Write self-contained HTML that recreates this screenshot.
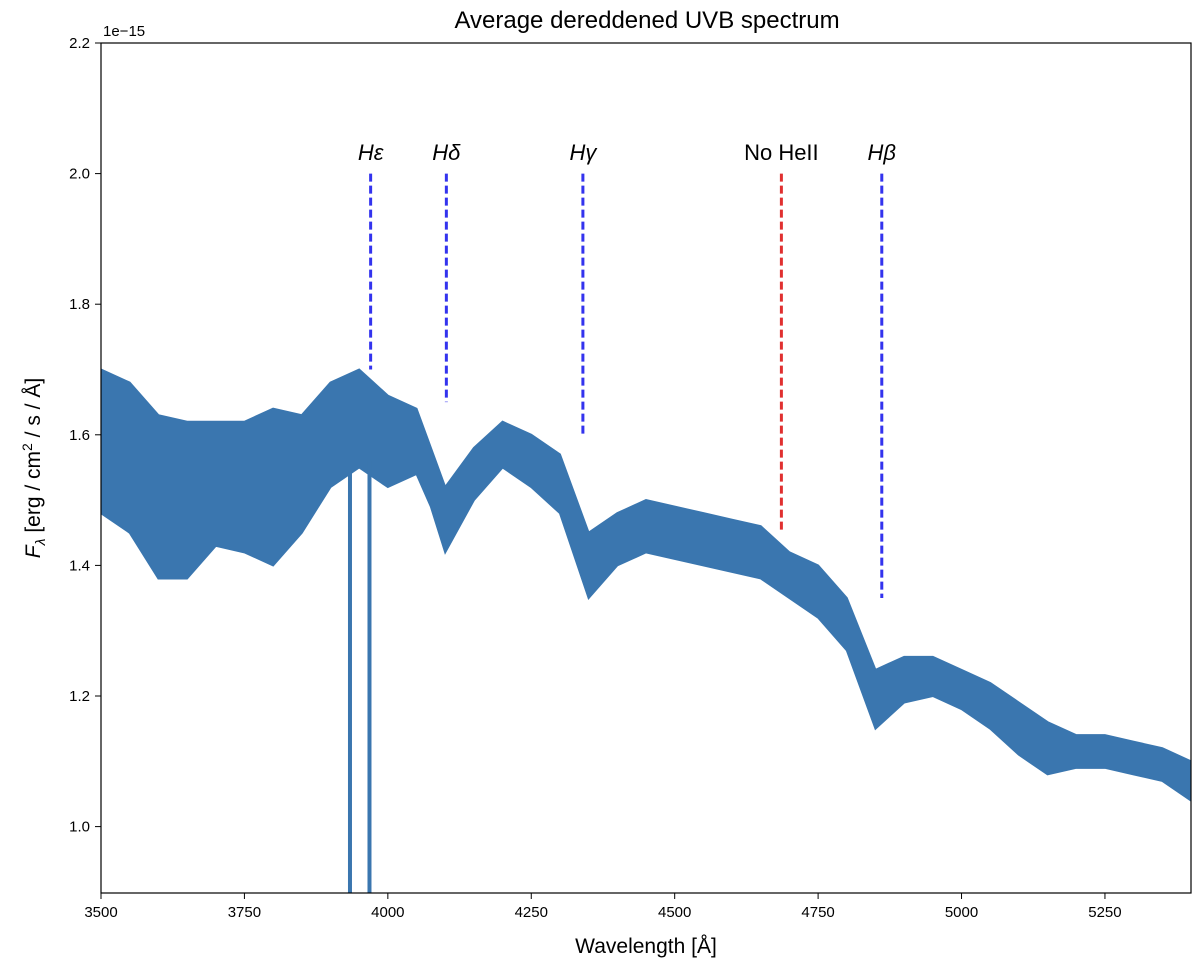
<!DOCTYPE html>
<html><head><meta charset="utf-8"><style>
body{margin:0;background:#fff;font-family:"Liberation Sans","DejaVu Sans",sans-serif}
text{font-family:"Liberation Sans","DejaVu Sans",sans-serif}
</style></head><body>
<svg id="chart" width="1200" height="973" viewBox="0 0 1200 973" xmlns="http://www.w3.org/2000/svg">
<defs><clipPath id="clip"><rect x="101" y="43" width="1090" height="850"/></clipPath></defs>
<text x="647" y="28" font-size="24" text-anchor="middle">Average dereddened UVB spectrum</text>
<text x="103" y="36" font-size="15">1e−15</text>
<g id="plot" clip-path="url(#clip)"></g>
<rect x="101" y="43" width="1090" height="850" fill="none" stroke="#000" stroke-width="1.2"/>
<g id="axes"></g>
<text x="646" y="953" font-size="21" text-anchor="middle">Wavelength [Å]</text>
<text transform="translate(40,468) rotate(-90)" font-size="21" text-anchor="middle"><tspan font-style="italic">F</tspan><tspan font-style="italic" font-size="14" dy="5">λ</tspan><tspan dy="-5"> [erg / cm</tspan><tspan font-size="14" dy="-8">2</tspan><tspan dy="8"> / s / Å]</tspan></text>
</svg>
<script>
const wave=[3500,3550,3600,3650,3700,3750,3800,3850,3900,3950,4000,4050,4075,4100,4150,4200,4250,4300,4350,4400,4450,4500,4550,4600,4650,4700,4750,4800,4850,4900,4950,5000,5050,5100,5150,5200,5250,5300,5350,5400];
const upper=[1.70,1.68,1.63,1.62,1.62,1.62,1.64,1.63,1.68,1.70,1.66,1.64,1.58,1.52,1.58,1.62,1.60,1.57,1.45,1.48,1.50,1.49,1.48,1.47,1.46,1.42,1.40,1.35,1.24,1.26,1.26,1.24,1.22,1.19,1.16,1.14,1.14,1.13,1.12,1.10];
const lower=[1.48,1.45,1.38,1.38,1.43,1.42,1.40,1.45,1.52,1.55,1.52,1.54,1.49,1.42,1.50,1.55,1.52,1.48,1.35,1.40,1.42,1.41,1.40,1.39,1.38,1.35,1.32,1.27,1.15,1.19,1.20,1.18,1.15,1.11,1.08,1.09,1.09,1.08,1.07,1.04];
const spikeWave=[3934,3968];
const spikeTop=[1.56,1.56];
const lineWave=[3970,4102,4340,4686,4861];
const lineBottom=[1.70,1.65,1.60,1.45,1.35];
const lineLabels=["Hε","Hδ","Hγ","No HeII","Hβ"];
const xTicks=[3500,3750,4000,4250,4500,4750,5000,5250];
const yTicks=[1.0,1.2,1.4,1.6,1.8,2.0,2.2];
const X=w=>101+(w-3500)*(1090/1900);
const Y=v=>43+(2.2-v)*653;
const NS="http://www.w3.org/2000/svg";
function mk(t,a,p){const e=document.createElementNS(NS,t);for(const k in a)e.setAttribute(k,a[k]);p.appendChild(e);return e;}
const plot=document.getElementById('plot'),axes=document.getElementById('axes');
let d="";wave.forEach((w,i)=>d+=(i?"L":"M")+X(w)+","+Y(upper[i]));
for(let i=wave.length-1;i>=0;i--)d+="L"+X(wave[i])+","+Y(lower[i]);
const band=mk('path',{d:d+"Z",fill:"#3a76af",stroke:"#3a76af","stroke-width":2},plot);


spikeWave.forEach((w,i)=>{const l=mk('line',{x1:X(w),x2:X(w),y1:Y(spikeTop[i]),y2:893,stroke:"#3a76af","stroke-width":4},plot);

});
lineWave.forEach((w,i)=>{const red=i===3;
const l=mk('line',{x1:X(w),x2:X(w),y1:Y(2.0),y2:Y(lineBottom[i]),stroke:red?"#e03030":"#3333ee","stroke-width":3,"stroke-dasharray":"8,4"},plot);


const t=mk('text',{x:X(w),y:160,"font-size":22,"text-anchor":"middle","font-style":red?"normal":"italic"},plot);
t.textContent=lineLabels[i];

});
xTicks.forEach(v=>{mk('line',{x1:X(v),x2:X(v),y1:893,y2:899,stroke:"#000"},axes);
const t=mk('text',{x:X(v),y:917,"font-size":15,"text-anchor":"middle"},axes);t.textContent=v;

});
yTicks.forEach(v=>{mk('line',{x1:95,x2:101,y1:Y(v),y2:Y(v),stroke:"#000"},axes);
const t=mk('text',{x:90,y:Y(v)+5,"font-size":15,"text-anchor":"end"},axes);t.textContent=v.toFixed(1);

});
</script>
</body></html>
